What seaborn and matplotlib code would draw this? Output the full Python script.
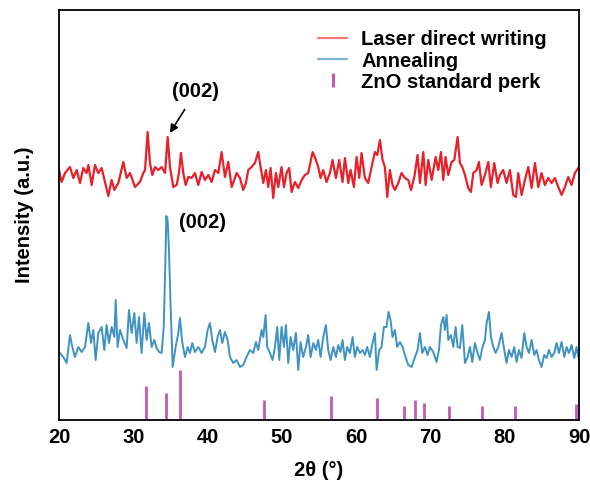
import numpy as np
import pandas as pd
import matplotlib
matplotlib.use("Agg")
import matplotlib.pyplot as plt
from matplotlib.lines import Line2D
from matplotlib.ticker import MultipleLocator
import seaborn as sns

# ---- data (intensity in arbitrary units) ----
laser_theta = [20.00, 20.36, 20.81, 21.48, 21.93, 22.38, 22.83, 23.27, 23.72, 23.95, 24.40, 24.84,
               25.29, 25.74, 26.19, 26.64, 27.09, 27.45, 27.99, 28.66, 29.11, 29.56, 30.23, 30.90,
               31.35, 31.58, 31.93, 32.25, 32.56, 32.92, 33.37, 33.82, 34.27, 34.63, 34.94, 35.39,
               35.84, 36.15, 36.42, 36.73, 37.05, 37.40, 37.85, 38.30, 38.75, 39.20, 39.65, 40.10,
               40.55, 41.00, 41.45, 41.89, 42.34, 42.79, 43.24, 43.69,
               43.91, 44.36, 44.80, 45.16, 45.48, 45.93, 46.37, 46.82, 47.14, 47.50, 47.86, 48.17,
               48.48, 48.84, 49.20, 49.52, 49.96, 50.28, 50.64, 50.99, 51.31, 51.76, 52.21, 52.66,
               53.10, 53.55, 54.14, 54.58, 54.90, 55.21, 55.57, 56.02, 56.47, 56.83, 57.28, 57.72,
               58.17, 58.49, 58.94, 59.25, 59.70, 60.06, 60.42, 60.73, 61.18, 61.63, 62.08, 62.53,
               62.84, 63.20, 63.56, 63.87, 64.19, 64.54, 64.90, 65.22, 65.67, 66.11,
               66.57, 67.02, 67.38, 67.83, 68.27, 68.59, 69.04, 69.35, 69.71, 70.16, 70.70, 71.06,
               71.42, 71.73, 72.04, 72.40, 72.85, 73.21, 73.66, 73.97, 74.29, 74.65, 75.09, 75.45,
               75.77, 76.22, 76.53, 76.89, 77.34, 77.79, 78.14, 78.59, 79.04, 79.36, 79.80, 80.25,
               80.70, 81.15, 81.51, 81.82, 82.27, 82.72, 83.17, 83.62, 84.07, 84.52, 84.96, 85.41,
               85.86, 86.31, 86.76, 87.21, 87.66, 88.10, 88.55, 89.00, 89.45, 89.99]
laser_int = [250, 238, 247, 253, 242, 250, 237, 252, 247, 255, 235, 255,
             247, 252, 238, 224, 240, 230, 237, 258, 242, 247, 233, 238,
             247, 250, 288, 257, 245, 253, 250, 253, 247, 283, 253, 233,
             235, 247, 267, 247, 235, 243, 242, 247, 235, 248, 240, 245,
             238, 250, 247, 268, 243, 258, 233, 242,
             247, 242, 230, 237, 250, 253, 257, 268, 253, 237, 250, 233,
             252, 222, 247, 233, 253, 233, 247, 252, 228, 238, 232, 240,
             245, 247, 268, 260, 253, 242, 250, 238, 247, 260, 242, 260,
             238, 262, 237, 250, 233, 263, 242, 267, 242, 237, 253, 268,
             265, 280, 260, 253, 223, 250, 235, 230, 237, 247,
             242, 240, 230, 243, 265, 237, 268, 235, 260, 240, 263, 250,
             268, 240, 263, 245, 258, 260, 283, 257, 253, 245, 232, 228,
             247, 250, 258, 235, 245, 258, 233, 257, 237, 245, 250, 237,
             250, 225, 223, 247, 225, 240, 253, 232, 257, 233, 247, 235,
             242, 237, 242, 233, 225, 233, 243, 235, 247, 253]

anneal_theta = [20.13, 20.58, 21.03, 21.48, 21.79, 22.15, 22.60, 23.05, 23.50, 23.95, 24.31, 24.62,
                24.93, 25.29, 25.74, 26.10, 26.41, 26.73, 27.09, 27.45, 27.63, 27.89, 28.21, 28.66,
                29.11, 29.42, 29.78, 30.14, 30.45, 30.77, 31.12, 31.48, 31.80, 32.11, 32.47, 32.83,
                33.14, 33.46, 33.82, 34.10, 34.30, 34.45, 34.62, 34.80, 35.00, 35.30, 35.70,
                36.06, 36.28, 36.60, 36.96, 37.32, 37.63, 37.94, 38.30, 38.75, 39.20, 39.65, 40.01,
                40.32, 40.64, 41.00, 41.35, 41.67, 41.98, 42.34, 42.70, 43.01, 43.46,
                43.91, 44.36, 44.80, 45.25, 45.70, 46.15, 46.51, 46.82, 47.27, 47.50, 47.81, 48.03,
                48.39, 48.75, 49.07, 49.38, 49.65, 49.96, 50.28, 50.55, 50.86, 51.18, 51.53, 51.89,
                52.21, 52.52, 52.88, 53.24, 53.55, 53.87, 54.23, 54.58, 54.90, 55.21, 55.57, 55.93,
                56.24, 56.56, 56.92, 57.28, 57.59, 57.90, 58.17, 58.49, 58.80, 59.16, 59.52, 59.83,
                60.15, 60.51, 60.87, 61.18, 61.49, 61.85, 62.21, 62.53, 62.75, 63.11, 63.42, 63.74,
                64.09, 64.36, 64.63, 64.90, 65.22, 65.53, 65.89, 66.25,
                66.57, 67.02, 67.47, 67.92, 68.27, 68.59, 68.90, 69.26, 69.62, 69.93, 70.38, 70.83,
                71.15, 71.42, 71.73, 71.95, 72.18, 72.40, 72.76, 73.08, 73.39, 73.66, 73.97, 74.29,
                74.65, 75.00, 75.32, 75.63, 75.99, 76.35, 76.66, 76.98, 77.34, 77.56, 77.88, 78.14,
                78.46, 78.77, 79.13, 79.58, 79.94, 80.25, 80.57, 80.93, 81.28, 81.60, 81.91, 82.27,
                82.63, 82.95, 83.26, 83.62, 83.98, 84.29, 84.60, 84.96, 85.32, 85.64, 85.95, 86.31,
                86.67, 86.98, 87.30, 87.66, 88.02, 88.33, 88.64, 89.00, 89.36, 89.67, 89.90]
anneal_int = [67, 63, 57, 85, 73, 63, 73, 68, 73, 97, 77, 90,
              60, 87, 93, 70, 95, 77, 93, 83, 120, 73, 90, 80,
              72, 110, 87, 107, 77, 103, 67, 107, 80, 97, 73, 80,
              72, 68, 67, 93, 153, 204, 200, 170, 120, 53, 73,
              87, 102, 77, 63, 73, 67, 77, 68, 73, 67, 73, 90,
              97, 80, 68, 83, 90, 77, 88, 80, 63, 57,
              60, 53, 55, 63, 70, 67, 78, 70, 90, 83, 105, 73,
              67, 60, 73, 93, 60, 93, 73, 95, 57, 83, 70, 87,
              50, 78, 63, 73, 85, 63, 77, 70, 80, 63, 83, 95,
              70, 60, 73, 63, 75, 68, 80, 60, 73, 67, 83, 63,
              73, 67, 70, 65, 73, 63, 77, 87, 50, 70, 73, 93,
              93, 108, 100, 83, 90, 73, 78, 73,
              65, 55, 53, 63, 70, 87, 67, 73, 65, 73, 68, 58,
              70, 95, 103, 90, 105, 80, 85, 73, 93, 73, 72, 95,
              57, 63, 73, 58, 77, 67, 60, 72, 80, 97, 108, 83,
              73, 67, 73, 87, 70, 57, 70, 63, 73, 58, 70, 62,
              87, 73, 67, 80, 65, 70, 60, 53, 65, 62, 70, 63,
              67, 77, 67, 78, 63, 73, 67, 75, 62, 73, 63]

std_theta = [31.77, 34.42, 36.25, 47.54, 56.60, 62.86, 66.38, 67.96, 69.10, 72.56, 76.95, 81.37, 89.60]
std_int = [34, 27, 50, 20, 24, 22, 14, 20, 17, 14, 14, 14, 16]

x_ticks = [20, 30, 40, 50, 60, 70, 80, 90]

# ---- style ----
sns.set_style("white")
plt.rcParams["font.family"] = ["Liberation Sans", "DejaVu Sans"]
plt.rcParams["font.weight"] = "bold"
plt.rcParams["text.color"] = "black"
plt.rcParams["axes.labelcolor"] = "black"
plt.rcParams["xtick.color"] = "black"

RED = "#e8202a"
BLUE = "#3f93c2"
MAG = "#c25ab8"
FS = 14.5

fig = plt.figure(figsize=(5.9, 4.9), dpi=100)
ax = fig.add_axes([59 / 590, 1 - 420 / 490, 520 / 590, 410 / 490])

df_l = pd.DataFrame({"theta": laser_theta, "I": laser_int})
df_a = pd.DataFrame({"theta": anneal_theta, "I": anneal_int})
sns.lineplot(data=df_l, x="theta", y="I", ax=ax, color=RED, lw=1.6, sort=False)
sns.lineplot(data=df_a, x="theta", y="I", ax=ax, color=BLUE, lw=1.4, sort=False)
ax.vlines(std_theta, 0, std_int, colors=MAG, lw=2.0)

ax.set_xlim(20, 90)
ax.set_ylim(0, 410)
ax.set_xticks(x_ticks)
ax.set_xticklabels([str(t) for t in x_ticks], fontsize=FS, fontweight="bold")
ax.xaxis.set_minor_locator(MultipleLocator(5))
ax.tick_params(axis="x", which="major", direction="in", length=5, width=1.2, pad=6,
               colors="black")
ax.tick_params(axis="x", which="minor", direction="in", length=3, width=1.2)
ax.set_yticks([])
for s in ax.spines.values():
    s.set_color("black")
    s.set_linewidth(1.3)

ax.set_xlabel("2θ (°)", fontsize=FS, fontweight="bold", labelpad=10)
ax.set_ylabel("Intensity (a.u.)", fontsize=FS, fontweight="bold", labelpad=18)

# annotations
il = int(np.argmax([v if 34 < t < 35.5 else 0 for t, v in zip(laser_theta, laser_int)]))
ax.annotate("(002)", xy=(laser_theta[il] + 0.3, laser_int[il] + 4), xytext=(38.4, 328),
            ha="center", va="center", fontsize=FS, fontweight="bold",
            arrowprops=dict(arrowstyle="-|>", color="black", lw=1.2, mutation_scale=12,
                            shrinkA=4, shrinkB=0))
ia = int(np.argmax(anneal_int))
ax.text(anneal_theta[ia] + 4.9, anneal_int[ia] - 7, "(002)", ha="center", va="center",
        fontsize=FS, fontweight="bold")

handles = [Line2D([], [], color="#f07a7a", lw=1.6),
           Line2D([], [], color="#7ab4d8", lw=1.6),
           Line2D([], [], color=MAG, marker="|", ls="none", markersize=10, markeredgewidth=2.2)]
labels = ["Laser direct writing", "Annealing", "ZnO standard perk"]
leg = ax.legend(handles, labels, loc="upper left", bbox_to_anchor=(0.498, 0.95),
                frameon=False, fontsize=FS, handlelength=1.45, handletextpad=0.7,
                labelspacing=0.1, borderaxespad=0.0, borderpad=0.0)
for t in leg.get_texts():
    t.set_fontweight("bold")
    t.set_color("black")

fig.savefig("out.png", dpi=100)
